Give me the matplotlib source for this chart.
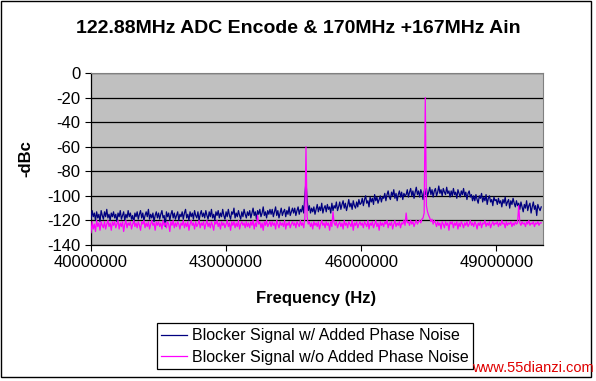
import numpy as np
import matplotlib
matplotlib.use('Agg')
import matplotlib.pyplot as plt
from matplotlib.patches import Rectangle

plt.rcParams['font.family'] = ['Liberation Sans', 'DejaVu Sans']

# ---------------- dados ----------------
# grade de frequencias (Hz): 40 MHz a 50 MHz, passo de 25 kHz
freq_inicio = 40000000
freq_passo = 25000

# Blocker Signal w/ Added Phase Noise (dBc) - cada linha = 0.5 MHz
azul = [
    -119, -112, -117, -114, -120, -113, -118, -115, -121, -112, -116, -119, -113, -117, -111, -118, -115, -120, -114, -117,
    -113, -118, -115, -121, -114, -117, -112, -119, -116, -113, -120, -115, -118, -112, -117, -114, -119, -116, -122, -114,
    -117, -113, -119, -115, -112, -118, -114, -120, -116, -113, -117, -111, -119, -115, -118, -114, -121, -116, -113, -118,
    -114, -119, -115, -112, -118, -116, -125, -113, -117, -114, -120, -115, -112, -118, -114, -119, -116, -113, -120, -115,
    -117, -113, -119, -114, -111, -118, -115, -120, -113, -117, -114, -119, -112, -116, -118, -113, -120, -115, -112, -117,
    -114, -118, -112, -116, -119, -113, -117, -111, -118, -115, -120, -113, -116, -112, -118, -114, -117, -111, -116, -119,
    -113, -117, -111, -116, -119, -113, -115, -110, -118, -114, -117, -112, -116, -119, -113, -117, -111, -115, -118, -113,
    -116, -112, -118, -114, -110, -116, -113, -119, -112, -115, -111, -117, -114, -109, -116, -113, -118, -112, -115, -111,
    -115, -111, -117, -113, -109, -116, -112, -118, -114, -110, -116, -113, -111, -117, -112, -115, -109, -116, -113, -110,
    -114, -110, -116, -112, -109, -115, -111, -113, -108, -114, -100, -88, -103, -112, -108, -114, -110, -113, -109, -115,
    -111, -107, -113, -109, -112, -106, -114, -110, -108, -113, -107, -111, -109, -114, -106, -112, -108, -110, -105, -112,
    -109, -105, -111, -107, -104, -110, -106, -112, -108, -103, -109, -106, -111, -104, -108, -110, -105, -109, -103, -107,
    -106, -102, -108, -103, -100, -106, -104, -109, -101, -105, -102, -107, -99, -104, -101, -106, -103, -100, -105, -101,
    -102, -98, -104, -99, -96, -101, -103, -97, -100, -95, -102, -98, -104, -99, -96, -101, -97, -103, -98, -100,
    -99, -95, -101, -97, -94, -100, -96, -102, -97, -93, -99, -96, -101, -95, -98, -103, -96, -99, -94, -100,
    -97, -93, -99, -95, -101, -96, -94, -100, -97, -92, -98, -95, -100, -94, -97, -99, -93, -98, -96, -101,
    -96, -100, -94, -99, -97, -102, -95, -98, -101, -96, -99, -94, -100, -97, -103, -98, -96, -101, -99, -104,
    -100, -104, -99, -103, -106, -100, -102, -98, -105, -101, -104, -99, -107, -102, -100, -105, -103, -108, -101, -104,
    -103, -107, -102, -106, -104, -109, -103, -106, -101, -108, -105, -103, -110, -104, -107, -102, -106, -109, -104, -108,
    -106, -111, -105, -109, -113, -107, -110, -104, -112, -108, -106, -114, -109, -105, -111, -108, -116, -107, -110, -112,
    -109,
]

# Blocker Signal w/o Added Phase Noise (dBc) - cada linha = 0.5 MHz
magenta = [
    -130, -121, -127, -123, -129, -120, -125, -122, -128, -121, -124, -126, -121, -127, -123, -120, -125, -122, -128, -121,
    -124, -121, -126, -123, -120, -127, -122, -125, -121, -129, -123, -120, -126, -122, -124, -121, -127, -123, -120, -125,
    -122, -126, -121, -124, -128, -121, -123, -120, -126, -122, -125, -121, -127, -123, -120, -124, -122, -128, -121, -124,
    -121, -125, -122, -127, -120, -124, -122, -126, -121, -123, -129, -121, -124, -120, -126, -122, -125, -121, -123, -127,
    -122, -124, -120, -126, -122, -125, -121, -128, -123, -120, -124, -122, -127, -121, -125, -123, -120, -126, -122, -124,
    -121, -127, -123, -120, -125, -122, -126, -121, -124, -128, -121, -123, -120, -125, -122, -127, -121, -124, -122, -126,
    -123, -120, -125, -122, -128, -121, -124, -121, -126, -122, -125, -120, -127, -123, -121, -124, -122, -126, -121, -125,
    -122, -126, -121, -124, -120, -127, -122, -125, -116, -123, -121, -126, -122, -128, -121, -124, -120, -125, -123, -121,
    -125, -121, -124, -122, -127, -120, -123, -126, -121, -124, -122, -125, -120, -127, -122, -124, -121, -126, -123, -121,
    -124, -122, -126, -121, -123, -125, -120, -124, -122, -126, -118, -60, -117, -123, -121, -125, -122, -127, -121, -124,
    -122, -125, -121, -127, -123, -120, -124, -122, -126, -121, -124, -122, -128, -121, -125, -113, -122, -124, -121, -126,
    -123, -121, -125, -122, -127, -120, -124, -122, -126, -121, -123, -125, -120, -128, -122, -124, -121, -126, -123, -121,
    -124, -122, -126, -121, -123, -125, -120, -127, -122, -124, -121, -126, -123, -120, -125, -122, -128, -121, -124, -122,
    -125, -121, -123, -120, -126, -122, -124, -121, -127, -123, -120, -125, -122, -124, -121, -126, -122, -123, -120, -124,
    -114, -122, -121, -124, -120, -123, -121, -125, -122, -120, -123, -121, -120, -122, -119, -118, -114, -20, -108, -113,
    -116, -118, -121, -119, -123, -120, -122, -125, -121, -124, -122, -127, -121, -123, -126, -121, -124, -122, -128, -121,
    -123, -121, -126, -122, -124, -121, -127, -122, -125, -121, -123, -126, -122, -124, -121, -125, -123, -120, -124, -122,
    -125, -121, -123, -127, -122, -124, -121, -126, -122, -123, -120, -125, -122, -124, -121, -126, -123, -121, -124, -122,
    -123, -121, -125, -122, -124, -120, -123, -122, -126, -121, -124, -122, -123, -121, -125, -122, -124, -121, -123, -122,
    -108, -122, -124, -121, -123, -122, -125, -121, -123, -120, -124, -122, -123, -121, -125, -122, -123, -121, -124, -122,
    -122,
]

ticks_x = [40000000, 43000000, 46000000, 49000000]
ticks_y = [0, -20, -40, -60, -80, -100, -120, -140]

freq = freq_inicio + freq_passo * np.arange(len(azul))

# ---------------- figura ----------------
fig = plt.figure(figsize=(5.96, 3.81), dpi=100)
fig.patch.set_facecolor('white')

ax = fig.add_axes([0.1527, 0.357, 0.7584, 0.4514])
ax.set_facecolor('#C0C0C0')

ax.plot(freq, azul, color='#000080', linewidth=0.9, label='Blocker Signal w/ Added Phase Noise', zorder=3)
ax.plot(freq, magenta, color='#FF00FF', linewidth=0.9, label='Blocker Signal w/o Added Phase Noise', zorder=4)

ax.set_xlim(40000000, 50040000)
ax.set_ylim(-140, 0)

ax.set_yticks(ticks_y)
ax.set_yticklabels([str(v) for v in ticks_y])
ax.set_xticks(ticks_x)
ax.set_xticklabels([str(v) for v in ticks_x])
ax.tick_params(axis='both', direction='out', length=4.5, width=0.8, labelsize=12, color='black', pad=3)

# grade horizontal preta
ax.grid(axis='y', color='black', linewidth=0.9, zorder=1)
ax.set_axisbelow(True)

for lado in ['top', 'right']:
    ax.spines[lado].set_color('#808080')
    ax.spines[lado].set_linewidth(0.8)
for lado in ['left', 'bottom']:
    ax.spines[lado].set_color('black')
    ax.spines[lado].set_linewidth(0.9)

ax.set_ylabel('-dBc', fontsize=12, weight='bold')
ax.yaxis.set_label_coords(-0.128, 0.5)
ax.set_xlabel('Frequency (Hz)', fontsize=12, weight='bold')
ax.xaxis.set_label_coords(0.498, -0.265)

fig.text(0.5, 0.925, '122.88MHz ADC Encode & 170MHz +167MHz Ain', fontsize=14, weight='bold',
         ha='center', va='center')

leg = fig.legend(loc='center', bbox_to_anchor=(0.5285, 0.0906), fontsize=11.5,
                 frameon=True, fancybox=False, edgecolor='black', framealpha=1,
                 borderpad=0.3, labelspacing=0.4, handlelength=1.6, handletextpad=0.3,
                 borderaxespad=0)
leg.get_frame().set_linewidth(0.9)

# moldura em volta da figura
fig.patches.append(Rectangle((0.001, 0.0105), 0.9898, 0.9865, fill=False, transform=fig.transFigure,
                             edgecolor='black', linewidth=1.0, zorder=10))

fig.text(0.997, 0.034, 'www.55dianzi.com', fontsize=10.5, color='#E00000', ha='right', va='center', zorder=11)

fig.savefig('out.png', dpi=100)
